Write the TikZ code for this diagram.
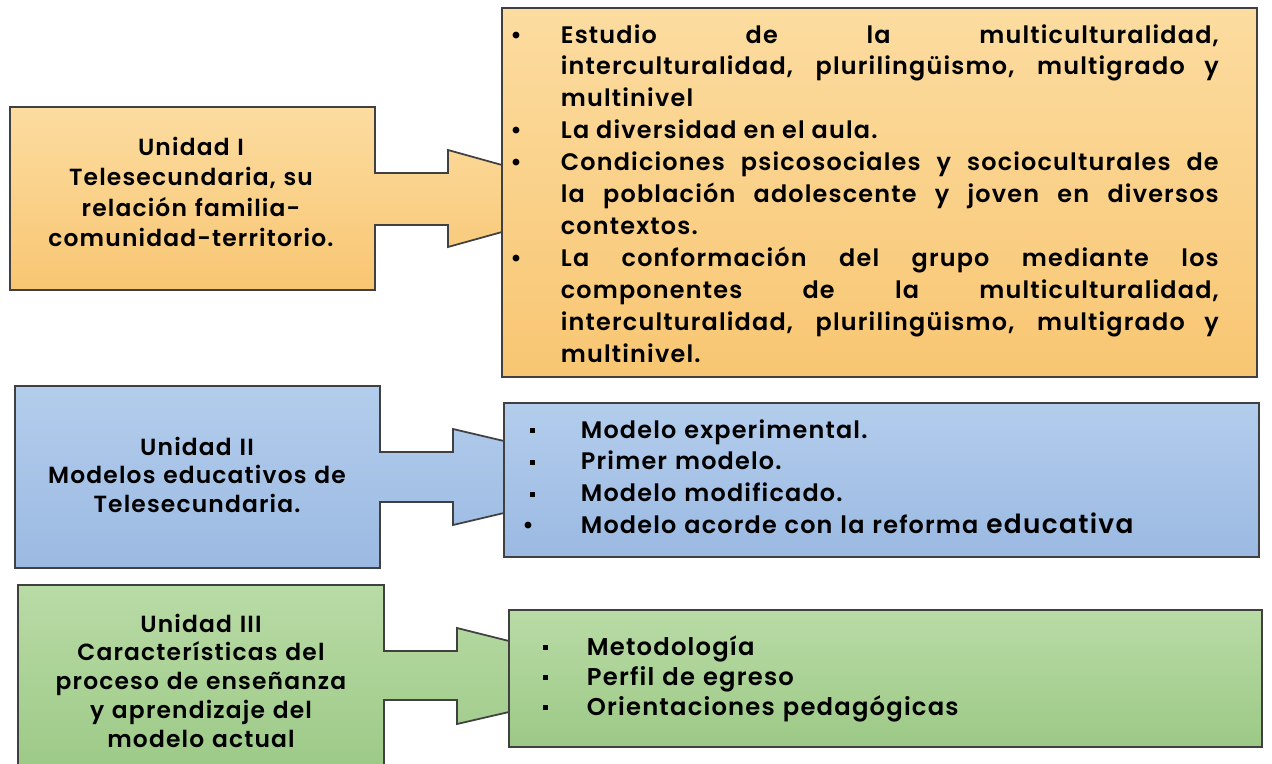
\documentclass[tikz,border=0pt]{standalone}
\usepackage{fontspec}
\setmainfont{Poppins}[BoldFont={Poppins SemiBold}, LetterSpace=5]
\definecolor{naranjaclaro}{HTML}{FCDCA0}
\definecolor{naranjaoscuro}{HTML}{F8C672}
\definecolor{azulclaro}{HTML}{B3CDEC}
\definecolor{azuloscuro}{HTML}{9BB9E2}
\definecolor{verdeclaro}{HTML}{B9DBA6}
\definecolor{verdeoscuro}{HTML}{9CC986}
\definecolor{borde}{HTML}{404040}
\newlength\sangria
\newcommand\tema[2]{\hangindent=\sangria\hangafter=1\makebox[\sangria][l]{#1}\ignorespaces#2\par}
\newcommand\cuadro{\rule[0.22em]{0.2em}{0.2em}}
\newcommand\punto{\hspace{-0.15cm}\textbullet}
\tikzset{
	naranja/.style={top color=naranjaclaro, bottom color=naranjaoscuro, draw=borde},
	azul/.style={top color=azulclaro, bottom color=azuloscuro, draw=borde},
	verde/.style={top color=verdeclaro, bottom color=verdeoscuro, draw=borde},
	titulo/.style={anchor=base, inner sep=0pt, text width=7.2cm, align=center, font=\bfseries\fontsize{13.3}{17.4}\selectfont},
	lista/.style={anchor=base west, inner sep=0pt, align=justify, font=\bfseries\fontsize{13.6}{18.2}\selectfont},
}
\begin{document}
\begin{tikzpicture}[x=0.02cm,y=-0.02cm,line width=1pt]
		\useasboundingbox (0,0) rectangle (1272,764);
		\clip (0,0) rectangle (1272,764);
		\draw[naranja] (10,107) -- (375,107) -- (375,173) -- (448,173) -- (448,150) -- (502,165) -- (502,232) -- (448,247) -- (448,225) -- (375,225) -- (375,290) -- (10,290) -- cycle;
		\draw[naranja] (502,8) rectangle (1257,377);
		\node[titulo] (unidadI) at (191,155) {Unidad I\\Telesecundaria, su\\relación familia-\\comunidad-territorio.};
		\node[lista, text width=14.02cm] (temasI) at (517,43) {\setlength\sangria{0.86cm}\setlength\parskip{0pt}\hyphenpenalty=10000%
			\tema{\punto}{Estudio de la multiculturalidad,\linebreak interculturalidad, plurilingüismo, multigrado y\linebreak multinivel}
			\tema{\punto}{La diversidad en el aula.}
			\tema{\punto}{Condiciones psicosociales y socioculturales de\linebreak la población adolescente y joven en diversos\linebreak contextos.}
			\tema{\punto}{La conformación del grupo mediante los\linebreak componentes de la multiculturalidad,\linebreak interculturalidad, plurilingüismo, multigrado y\linebreak multinivel.}};
		\draw[azul] (15,386) -- (380,386) -- (380,452) -- (453,452) -- (453,429) -- (504,441) -- (504,513) -- (453,525) -- (453,502) -- (380,502) -- (380,568) -- (15,568) -- cycle;
		\draw[azul] (504,403) rectangle (1259,557);
		\node[titulo, font=\bfseries\fontsize{13.3}{16.3}\selectfont] (unidadII) at (197,455) {Unidad II\\Modelos educativos de\\Telesecundaria.};
		\node[lista, text width=13cm, align=left, font=\bfseries\fontsize{13.6}{18.2}\selectfont] (temasII) at (529,438) {\setlength\sangria{1.02cm}\setlength\parskip{0pt}%
			\tema{\cuadro}{Modelo experimental.}
			\tema{\cuadro}{Primer modelo.}
			\tema{\cuadro}{Modelo modificado.}
			\tema{\punto}{Modelo acorde con la reforma {\fontsize{15}{18.2}\selectfont educativa}}};
		\draw[verde] (18,585) -- (384,585) -- (384,651) -- (457,651) -- (457,628) -- (509,641) -- (509,712) -- (457,724) -- (457,700) -- (384,700) -- (384,775) -- (18,775) -- cycle;
		\draw[verde] (509,610) rectangle (1262,747);
		\node[titulo, font=\bfseries\fontsize{13.3}{16.4}\selectfont] (unidadIII) at (201,632) {Unidad III\\Características del\\proceso de enseñanza\\y aprendizaje del\\modelo actual};
		\node[lista, text width=13cm, align=left, font=\bfseries\fontsize{13.8}{17.1}\selectfont] (temasIII) at (542,655) {\setlength\sangria{0.88cm}\setlength\parskip{0pt}%
			\tema{\cuadro}{Metodología}
			\tema{\cuadro}{Perfil de egreso}
			\tema{\cuadro}{Orientaciones pedagógicas}};
	\end{tikzpicture}
\end{document}
